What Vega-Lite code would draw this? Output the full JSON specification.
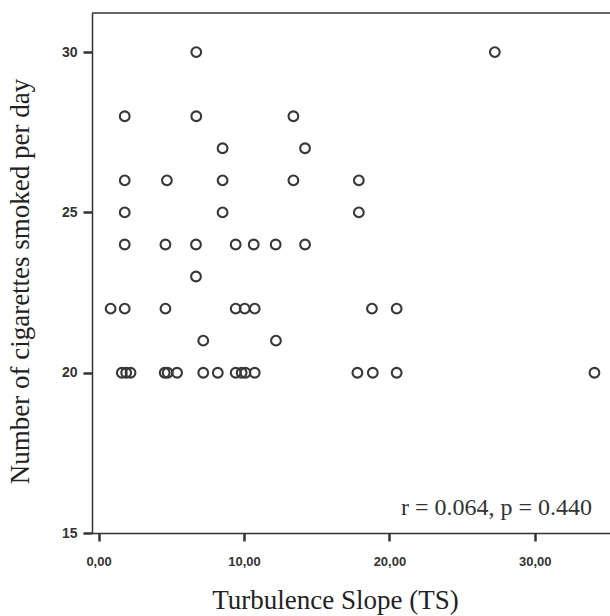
{
  "$schema": "https://vega.github.io/schema/vega-lite/v6.json",
  "width": 518,
  "height": 520,
  "autosize": {"type": "none"},
  "padding": {"left": 92, "top": 13, "right": 0, "bottom": 83},
  "background": "white",
  "config": {"view": {"stroke": null}},
  "layer": [
    {
      "data": {"values": [
        {"ts": 6.72, "cig": 30}, {"ts": 27.25, "cig": 30},
        {"ts": 1.8, "cig": 28}, {"ts": 6.72, "cig": 28}, {"ts": 13.4, "cig": 28},
        {"ts": 8.53, "cig": 27}, {"ts": 14.2, "cig": 27},
        {"ts": 1.8, "cig": 26}, {"ts": 4.7, "cig": 26}, {"ts": 8.53, "cig": 26}, {"ts": 13.4, "cig": 26}, {"ts": 17.9, "cig": 26},
        {"ts": 1.8, "cig": 25}, {"ts": 8.53, "cig": 25}, {"ts": 17.9, "cig": 25},
        {"ts": 1.8, "cig": 24}, {"ts": 4.6, "cig": 24}, {"ts": 6.7, "cig": 24}, {"ts": 9.43, "cig": 24}, {"ts": 10.67, "cig": 24}, {"ts": 12.18, "cig": 24}, {"ts": 14.2, "cig": 24},
        {"ts": 6.7, "cig": 23},
        {"ts": 0.83, "cig": 22}, {"ts": 1.8, "cig": 22}, {"ts": 4.6, "cig": 22}, {"ts": 9.43, "cig": 22}, {"ts": 10.05, "cig": 22}, {"ts": 10.74, "cig": 22}, {"ts": 18.8, "cig": 22}, {"ts": 20.5, "cig": 22},
        {"ts": 7.2, "cig": 21}, {"ts": 12.2, "cig": 21},
        {"ts": 1.6, "cig": 20}, {"ts": 1.9, "cig": 20}, {"ts": 2.2, "cig": 20}, {"ts": 4.55, "cig": 20}, {"ts": 4.75, "cig": 20}, {"ts": 5.4, "cig": 20}, {"ts": 7.2, "cig": 20}, {"ts": 8.2, "cig": 20}, {"ts": 9.43, "cig": 20}, {"ts": 9.84, "cig": 20}, {"ts": 10.1, "cig": 20}, {"ts": 10.74, "cig": 20}, {"ts": 17.8, "cig": 20}, {"ts": 18.86, "cig": 20}, {"ts": 20.5, "cig": 20}, {"ts": 34.1, "cig": 20}
      ]},
      "mark": {"type": "point", "shape": "circle", "filled": false, "size": 95, "strokeWidth": 2.1, "stroke": "#383838", "opacity": 1},
      "encoding": {
        "x": {
          "field": "ts", "type": "quantitative",
          "scale": {"domain": [-0.45, 35.17], "nice": false, "zero": false},
          "axis": {
            "title": "Turbulence Slope (TS)",
            "values": [0, 10, 20, 30],
            "labelExpr": "replace(format(datum.value, '.2f'), '.', ',')",
            "grid": false,
            "domainColor": "#333333", "domainWidth": 1.5,
            "tickColor": "#333333", "tickWidth": 2.5, "tickSize": 8,
            "labelFont": "Liberation Sans", "labelFontWeight": "bold", "labelFontSize": 13, "labelColor": "#333333",
            "labelPadding": 14,
            "titleFont": "Liberation Serif", "titleFontSize": 27, "titleFontWeight": "normal", "titleColor": "#222222",
            "titleX": 243, "titleY": 75, "titleBaseline": "alphabetic", "titleAnchor": null, "titleAlign": "center"
          }
        },
        "y": {
          "field": "cig", "type": "quantitative",
          "scale": {"domain": [15, 31.22], "nice": false, "zero": false},
          "axis": {
            "title": "Number of cigarettes smoked per day",
            "values": [15, 20, 25, 30],
            "grid": false,
            "domainColor": "#333333", "domainWidth": 1.5,
            "tickColor": "#333333", "tickWidth": 2.5, "tickSize": 9,
            "labelFont": "Liberation Sans", "labelFontWeight": "bold", "labelFontSize": 14, "labelColor": "#333333",
            "labelPadding": 6,
            "titleFont": "Liberation Serif", "titleFontSize": 27, "titleFontWeight": "normal", "titleColor": "#222222",
            "titleX": -64, "titleY": 268, "titleAngle": -90, "titleBaseline": "alphabetic", "titleAnchor": null, "titleAlign": "center"
          }
        }
      }
    },
    {
      "data": {"values": [{"top": 31.22}]},
      "mark": {"type": "rule", "color": "#333333", "strokeWidth": 1.5},
      "encoding": {"y": {"field": "top", "type": "quantitative"}}
    },
    {
      "data": {"values": [{"label": "r = 0.064, p = 0.440", "lx": 33.93, "ly": 15.57}]},
      "mark": {"type": "text", "align": "right", "baseline": "alphabetic", "font": "Liberation Serif", "fontSize": 24, "fontWeight": "normal", "fill": "#333333"},
      "encoding": {
        "x": {"field": "lx", "type": "quantitative"},
        "y": {"field": "ly", "type": "quantitative"},
        "text": {"field": "label"}
      }
    }
  ]
}
